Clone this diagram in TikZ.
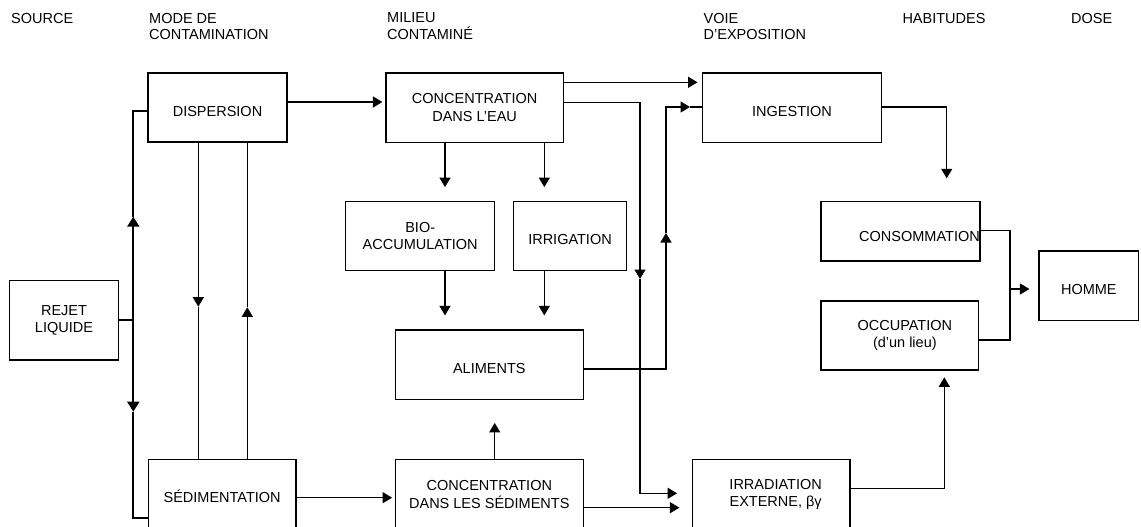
\documentclass[tikz,border=0pt]{standalone}
\usepackage{fontspec}
\setmainfont{Liberation Sans}
\usetikzlibrary{arrows.meta,calc}
\begin{document}
\begin{tikzpicture}[x=1pt,y=-1pt,
  txt/.style={font=\fontsize{14.5}{17.5}\selectfont},
  box/.style={draw, line width=1.2pt, inner sep=0pt, align=center, txt},
  onebox/.style={box, text height=17pt, text depth=0pt},
  head/.style={anchor=north west, inner sep=0pt, align=left, font=\fontsize{14.5}{16.7}\selectfont},
  conn/.style={line width=1.2pt},
  arr/.style={conn, -{Triangle[length=9.5pt,width=11pt]}},
  trunk/.style={line width=1.8pt},
  tarr/.style={trunk, -{Triangle[length=10pt,width=12pt]}}
]
\useasboundingbox (0,0) rectangle (1141,527);
\clip (0,0) rectangle (1141,527);

% headers
\node[head] (hsource) at (11,12.7) {SOURCE};
\node[head] (hmode) at (149,12.7) {MODE DE\\CONTAMINATION};
\node[head] (hmilieu) at (387,12.7) {MILIEU\\CONTAMINÉ};
\node[head] (hvoie) at (703.5,12.7) {VOIE\\D’EXPOSITION};
\node[head] (hhab) at (902.3,12.7) {HABITUDES};
\node[head] (hdose) at (1071,12.7) {DOSE};

% boxes
\node[box, minimum width=109.4pt, minimum height=79.3pt] (rejet) at (64,320.35) {REJET\\LIQUIDE};
\node[onebox, minimum width=139pt, minimum height=69pt] (disp) at (217.5,107.5) {DISPERSION};
\node[onebox, minimum width=147.7pt, minimum height=70pt] (sed) at (222.15,494.3) {SÉDIMENTATION};
\node[box, minimum width=177.3pt, minimum height=69.3pt] (conceau) at (474.65,107.65) {CONCENTRATION\\DANS L’EAU};
\node[onebox, minimum width=178.6pt, minimum height=69.3pt] (ingest) at (792,107.65) {INGESTION};
\node[box, minimum width=149pt, minimum height=69pt] (bio) at (420.2,236.2) {BIO-\\ACCUMULATION};
\node[onebox, minimum width=113.4pt, minimum height=69pt] (irrig) at (570,236.2) {IRRIGATION};
\node[onebox, minimum width=188pt, minimum height=69.3pt] (alim) at (489.3,364.65) {ALIMENTS};
\node[box, minimum width=188pt, minimum height=70pt] (concsed) at (489.3,494.3) {CONCENTRATION\\DANS LES SÉDIMENTS};
\node[box, minimum width=157.3pt, minimum height=70pt] (irrad) at (771.35,494.3) {\hspace*{8.6pt}IRRADIATION\\\hspace*{8.6pt}EXTERNE, βγ};
\node[box, minimum width=159pt, minimum height=59.3pt] (cons) at (900.5,231.35) {};
\node[txt, inner sep=0pt] (constext) at (919.5,236.2) {CONSOMMATION};
\node[box, minimum width=157.7pt, minimum height=69pt] (occup) at (899.85,335.5) {\hspace*{10pt}OCCUPATION\\\hspace*{10pt}(d’un lieu)};
\node[onebox, minimum width=99.7pt, minimum height=69.7pt] (homme) at (1088.85,285.85) {HOMME};

% trunk from REJET LIQUIDE
\coordinate (tJ) at (133.3,320.35);
\coordinate (tT) at (133.3,110.7);
\coordinate (tB) at (133.3,517.7);
\coordinate (tUp) at (133.3,216.7);
\coordinate (tDn) at (133.3,411.7);
\draw[trunk] (rejet.east) -- (tJ);
\draw[tarr] (tJ) -- (tUp);
\draw[trunk] (tUp) -- (tT) -- (tT -| disp.west);
\draw[tarr] (tJ) -- (tDn);
\draw[trunk] (tDn) -- (tB) -- (tB -| sed.west);

% dispersion <-> sedimentation
\coordinate (dL) at (198.3,306.7);
\coordinate (dR) at (247.3,307.3);
\draw[arr] (disp.south -| dL) -- (dL);
\draw[conn] (dL) -- (sed.north -| dL);
\draw[arr] (sed.north -| dR) -- (dR);
\draw[conn] (dR) -- (disp.south -| dR);

% dispersion -> concentration eau
\coordinate (dc) at (287,102);
\draw[arr, shorten >=3pt] (disp.east |- dc) -- (dc -| conceau.west);

% concentration eau -> ingestion
\coordinate (ci) at (563.3,82.3);
\draw[arr, shorten >=4.5pt] (conceau.east |- ci) -- (ci -| ingest.west);

% concentration eau -> irradiation
\coordinate (cA) at (640,102.7);
\coordinate (cTip) at (640,279);
\coordinate (cB) at (640,493.3);
\draw[arr] (conceau.east |- cA) -- (cA) -- (cTip);
\draw[arr, shorten >=15pt] (cTip) -- (cB) -- (cB -| irrad.west);

% verticals
\coordinate (xb) at (445,0);
\coordinate (xi) at (544.3,0);
\coordinate (xs) at (494.7,0);
\draw[arr, shorten >=14pt] (conceau.south -| xb) -- (bio.north -| xb);
\draw[arr, shorten >=14pt] (conceau.south -| xi) -- (irrig.north -| xi);
\draw[arr, shorten >=14pt] (bio.south -| xb) -- (alim.north -| xb);
\draw[arr, shorten >=14pt] (irrig.south -| xi) -- (alim.north -| xi);
\draw[arr, shorten >=23pt] (concsed.north -| xs) -- (alim.south -| xs);

% aliments -> ingestion
\coordinate (aA) at (666,369);
\coordinate (aTip) at (666,233);
\coordinate (aB) at (666,107);
\coordinate (aTip2) at (690,107);
\draw[arr] (alim.east |- aA) -- (aA) -- (aTip);
\draw[arr] (aTip) -- (aB) -- (aTip2);
\draw[conn] (aTip2) -- (aTip2 -| ingest.west);

% ingestion -> consommation
\coordinate (iA) at (946.7,107);
\coordinate (iTip) at (946.7,178.3);
\draw[arr] (ingest.east |- iA) -- (iA) -- (iTip);

% bracket -> homme
\coordinate (bT) at (1010,230.7);
\coordinate (bB) at (1010,340);
\coordinate (bM) at (1010,289);
\draw[conn] (cons.east |- bT) -- (bT) -- (bB) -- (occup.east |- bB);
\draw[arr, shorten >=9pt] (bM) -- (bM -| homme.west);

% irradiation -> occupation
\coordinate (rA) at (944.3,488.3);
\draw[arr, shorten >=6.7pt] (irrad.east |- rA) -- (rA) -- (rA |- occup.south);

% concentration sediments -> irradiation
\coordinate (si) at (583.3,507.7);
\draw[arr, shorten >=12.7pt] (concsed.east |- si) -- (si -| irrad.west);

% sedimentation -> concentration sediments
\coordinate (sc) at (296,497.7);
\draw[arr, shorten >=2.6pt] (sed.east |- sc) -- (sc -| concsed.west);
\end{tikzpicture}
\end{document}
